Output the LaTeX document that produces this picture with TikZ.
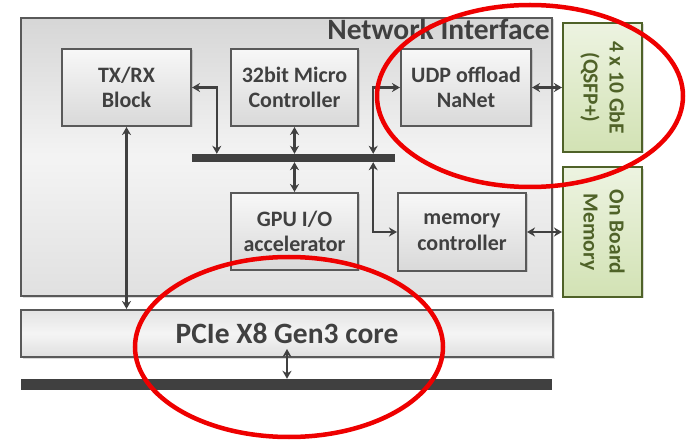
\documentclass[tikz,border=0pt]{standalone}
\usepackage{fontspec}
\setmainfont{Carlito}
\usepackage{xcolor}
\usepackage{tikz}
\usetikzlibrary{calc, arrows.meta, shadows, positioning}

\definecolor{boxline}{HTML}{595959}
\definecolor{txtgray}{HTML}{404040}
\definecolor{gbline}{HTML}{4F6228}
\definecolor{gbfill}{HTML}{D2E2B4}
\definecolor{ringred}{HTML}{EE0000}

\tikzset{
  blk/.style={draw=boxline, line width=2pt, top color=gray!6, bottom color=gray!30,
    minimum width=127pt, minimum height=77pt, align=center, text=txtgray,
    font=\fontsize{22}{25.5}\selectfont\bfseries,
    drop shadow={shadow xshift=1.5pt, shadow yshift=-1.5pt, opacity=0.3}},
  grn/.style={draw=gbline, line width=2pt, top color=gbfill!40, bottom color=gbfill,
    rotate=-90, minimum width=129pt, minimum height=79pt, align=center, text=gbline,
    font=\fontsize{21.5}{26}\selectfont\bfseries,
    drop shadow={shadow xshift=1.5pt, shadow yshift=-1.5pt, opacity=0.3}},
  busbar/.style={fill=txtgray, inner sep=0pt},
  dbl/.style={<->, line width=2.2pt, draw=txtgray},
  ring/.style={draw=ringred, line width=4.5pt}
}

\begin{document}
\begin{tikzpicture}[x=1pt, y=-1pt, >={Stealth[length=8pt, width=9pt, inset=2.5pt]}]
    \useasboundingbox (0,0) rectangle (689,441);

    % 1. Network interface block
    \node[draw=boxline, line width=2pt, top color=gray!32, bottom color=gray!24,
          middle color=gray!9, minimum width=531pt, minimum height=278pt,
          drop shadow={shadow xshift=1.5pt, shadow yshift=-1.5pt, opacity=0.3}]
        (ni) at (286.5,157) {};
    \node[anchor=base east, inner sep=0pt, text=txtgray,
          font=\fontsize{29.5}{32}\selectfont\bfseries]
        (nilabel) at ([xshift=-3pt, yshift=-23pt]ni.north east) {Network Interface};

    % 2. Blocks
    \node[blk, minimum width=129pt] (txrx)  at (126.5,87.5) {TX/RX\\Block};
    \node[blk] (micro) at (294.5,87.5) {32bit Micro\\Controller};
    \node[blk, minimum width=130pt] (udp)   at (466,87.5)   {UDP offload\\NaNet};
    \node[blk] (gpu)   at (294.5,231.5) {GPU I/O\\accelerator};
    \node[blk, minimum width=128pt, minimum height=78pt] (mem) at (462,232) {memory\\controller};
    \node[busbar, minimum width=203pt, minimum height=8pt] (bus) at (293.5,158) {};

    % 3. External parts
    \node[grn] (gbe) at (602.5,87.5) {4 x 10 GbE\\(QSFP+)};
    \node[grn] (obm) at (602.5,232)  {On Board\\Memory};

    % 4. PCIe core and host bus
    \node[draw=boxline, line width=2pt, top color=gray!22, bottom color=gray!25,
          middle color=gray!8, minimum width=532pt, minimum height=47pt, text=txtgray,
          font=\fontsize{29.5}{32}\selectfont\bfseries,
          drop shadow={shadow xshift=1.5pt, shadow yshift=-1.5pt, opacity=0.3}]
        (pcie) at (287,333.5) {PCIe X8 Gen3 core};
    \node[busbar, minimum width=531pt, minimum height=11pt] (host) at (286.5,384.5) {};

    % 5. Connections
    \draw[dbl] (txrx.east) -| ([xshift=25pt]bus.north west);
    \draw[dbl] (micro.south) -- (micro.south |- bus.north);
    \draw[dbl] (bus.south -| gpu.north) -- (gpu.north);
    \draw[dbl] ([xshift=-22pt]bus.north east) |- (udp.west);
    \draw[dbl] ([xshift=-22pt]bus.south east) |- (mem.west);
    \draw[dbl] (txrx.south) -- (txrx.south |- pcie.north);
    \draw[dbl] (udp) -- (gbe);
    \draw[dbl] (mem) -- (obm);
    \draw[dbl] ([yshift=9pt]pcie.south) -- (pcie.south |- host.north);

    % 6. Red rings
    \draw[ring] (530,96) ellipse [x radius=153, y radius=91];
    \draw[ring] (289,347) ellipse [x radius=154, y radius=90];
\end{tikzpicture}
\end{document}
